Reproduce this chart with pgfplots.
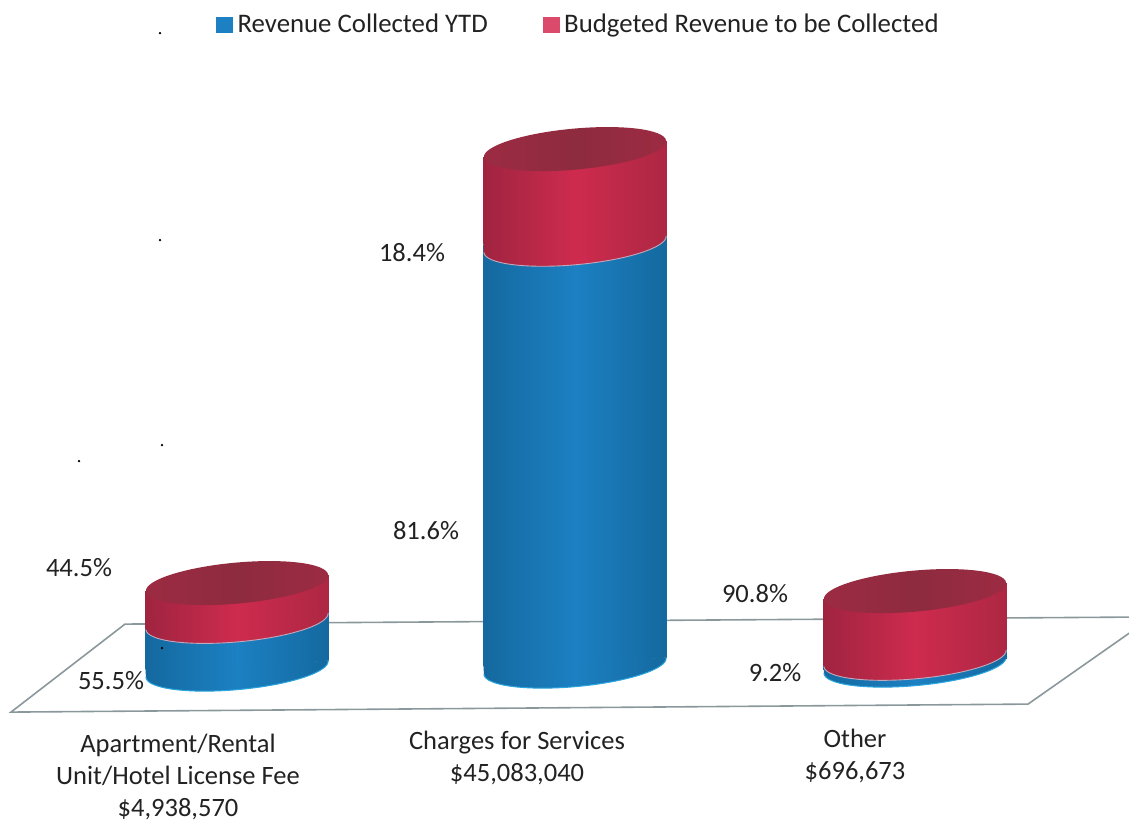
\documentclass[border=0pt]{standalone}
\usepackage{fontspec}
\setmainfont{Carlito}
\usepackage{pgfplots}
\pgfplotsset{compat=1.18}

\definecolor{blueEdge}{HTML}{14699F}
\definecolor{blueMid}{HTML}{1C80C2}
\definecolor{blueRim}{HTML}{2BA5DE}
\definecolor{redEdge}{HTML}{9F2440}
\definecolor{redMid}{HTML}{CE2B4E}
\definecolor{redRight}{HTML}{AD2743}
\definecolor{capA}{HTML}{9C2B42}
\definecolor{capB}{HTML}{8E2B3F}
\definecolor{seam}{HTML}{C2A8BC}
\definecolor{floorline}{HTML}{8A989C}
\definecolor{inkc}{HTML}{222222}
\definecolor{swatchRed}{HTML}{DB4A6A}

% Lower half of a tilted section of the cylinder: left end, front, right end
\def\lowerhalf{(-91.12,-8.29) .. controls (-90.09,-19.57) and (-48.47,-25.00) .. (1.86,-20.42)
  .. controls (52.19,-15.84) and (92.15,-2.99) .. (91.12,8.29)}

% Bottom of a cylinder
\pgfdeclareplotmark{cylbase}{%
  \fill[white,draw=none,x=1pt,y=1pt] (70,-1) -- (93,-1) -- (93,8.5) -- (70,6.4) -- cycle;
  \path[draw=none,x=1pt,y=1pt,left color=blueEdge,right color=blueEdge,middle color=blueMid]
    (-91.5,1) -- \lowerhalf -- (91.5,8.29) -- cycle;
  \draw[x=1pt,y=1pt,blueRim,line width=1pt] \lowerhalf;
}
% Seam between the collected and the budgeted part
\pgfdeclareplotmark{cylseam}{%
  \fill[blueEdge,draw=none,x=1pt,y=1pt] (72,-1) rectangle (91.5,8.29);
  \path[draw=none,x=1pt,y=1pt,left color=redEdge,right color=redRight,middle color=redMid]
    (-91.5,8.3) -- (-91.5,-8.29) -- \lowerhalf -- (91.5,8.3) -- cycle;
  \draw[x=1pt,y=1pt,seam,line width=0.9pt] \lowerhalf;
}
% Top lid, with the two small corners of the wall tidied up
\pgfdeclareplotmark{cyltop}{%
  \fill[white,draw=none,x=1pt,y=1pt] (-93,1) rectangle (-80,-8);
  \fill[redRight,draw=none,x=1pt,y=1pt] (78,-1) rectangle (91.5,8.29);
  \path[draw=none,x=1pt,y=1pt,left color=capA,right color=capA,middle color=capB]
    \lowerhalf .. controls (90.09,19.57) and (48.47,25.00) .. (-1.86,20.42)
    .. controls (-52.19,15.84) and (-92.15,2.99) .. (-91.12,-8.29) -- cycle;
}

% Walls of one stacked cylinder: x position, foot height, collected, budgeted
\newcommand{\cylinderwalls}[4]{%
  \begin{axis}[sheet,hide axis,ybar stacked,bar shift=0pt,bar width=183pt]
    \addplot[draw=none,fill=none] coordinates {(#1,#2)};
    \addplot[draw=none,left color=blueEdge,right color=blueEdge,middle color=blueMid] coordinates {(#1,#3)};
    \addplot[draw=none,left color=redEdge,right color=redRight,middle color=redMid] coordinates {(#1,#4)};
  \end{axis}}

\begin{document}
\begin{tikzpicture}[every node/.append style={text=inkc}]
\pgfplotsset{sheet/.style={
  width=1129pt,height=825pt,scale only axis,
  xmin=0,xmax=1129,ymin=0,ymax=825}}

% Floor of the 3-D plot area
\begin{axis}[sheet,hide axis]
  \addplot[floorline,line width=1.6pt,line join=miter] coordinates {
    (1129,208) (125,201) (11,113) (1028,121) (1135,196)};
\end{axis}

\cylinderwalls{237}{156}{47.73}{38.27}
\cylinderwalls{575}{159}{421.87}{95.13}
\cylinderwalls{915}{160}{6.81}{67.19}

% Elliptical sections, category labels, shares and legend
\begin{axis}[sheet,clip=false,
  axis line style={draw=none},major tick length=0pt,
  ymajorticks=false,
  xtick={178,517,855},
  xticklabels={
    {\rule{0pt}{24pt}Apartment/Rental\\Unit/Hotel License Fee\\\$4,938,570},
    {\rule{0pt}{21pt}Charges for Services\\\$45,083,040},
    {\rule{0pt}{18pt}Other\\\$696,673}},
  x tick label style={align=center,anchor=north,yshift=100pt,
    font=\fontsize{26.5}{32}\selectfont,text=inkc},
  legend style={at={(axis cs:213,815)},anchor=north west,draw=none,fill=none,
    legend columns=2,font=\fontsize{26.8}{30}\selectfont,text=inkc,
    /tikz/every even column/.append style={column sep=53pt},
    /tikz/every odd column/.append style={column sep=3pt}},
  legend cell align=left]

  \addplot[forget plot,only marks,mark=cylbase] coordinates {(237,156) (575,159) (915,160)};
  \addplot[forget plot,only marks,mark=cylseam] coordinates {(237,203.73) (575,580.87) (915,166.81)};
  \addplot[forget plot,only marks,mark=cyltop] coordinates {(237,242) (575,676) (915,234)};
  % Stray specks on the page
  \addplot[forget plot,only marks,mark=*,mark size=1pt,black] coordinates {
    (160,792) (160,585) (162,380) (79,364) (162,177)};

  \addlegendimage{legend image code/.code={\fill[blueMid] (0pt,-8pt) rectangle (16pt,7pt);}}
  \addlegendentry{Revenue Collected YTD}
  \addlegendimage{legend image code/.code={\fill[swatchRed] (0pt,-8pt) rectangle (16pt,7pt);}}
  \addlegendentry{Budgeted Revenue to be Collected}

  \node[font=\fontsize{26.5}{30}\selectfont] at (axis cs:79,258) {44.5\%};
  \node[font=\fontsize{26.5}{30}\selectfont] at (axis cs:111,145) {55.5\%};
  \node[font=\fontsize{26.5}{30}\selectfont] at (axis cs:412,573) {18.4\%};
  \node[font=\fontsize{26.5}{30}\selectfont] at (axis cs:426,295) {81.6\%};
  \node[font=\fontsize{26.5}{30}\selectfont] at (axis cs:755,232) {90.8\%};
  \node[font=\fontsize{26.5}{30}\selectfont] at (axis cs:775,153) {9.2\%};
\end{axis}
\end{tikzpicture}
\end{document}
